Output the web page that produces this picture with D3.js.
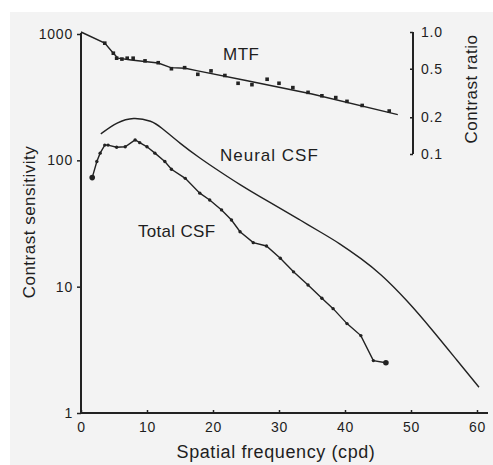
<!DOCTYPE html>
<html>
<head>
<meta charset="utf-8">
<script src="https://cdn.jsdelivr.net/npm/d3@7"></script>
<style>
body { margin:0; background:#fff; }
svg { display:block; }
text { font-family: "Liberation Sans", Arial, sans-serif; fill:#1e1e1e; }
</style>
</head>
<body>
<svg id="chart" width="493" height="465"></svg>
<script>
// MTF (right axis, contrast ratio) - measured points and fitted line
const mtfFreq  = [3.6,4.9,5.4,6.2,7.0,7.9,9.7,11.7,13.7,15.7,17.7,19.7,21.8,23.8,25.9,28.2,30.0,32.1,34.4,36.5,38.6,40.3,42.6,46.7]
const mtfRatio = [0.81,0.67,0.61,0.60,0.61,0.61,0.58,0.56,0.50,0.51,0.45,0.48,0.44,0.38,0.37,0.41,0.38,0.35,0.32,0.30,0.29,0.27,0.25,0.225]
const mtfFitFreq  = [0,3.6,4.9,5.6,7.6,11.7,13.6,15.8,17.7,25,35,48]
const mtfFitRatio = [1.0,0.81,0.67,0.61,0.59,0.557,0.51,0.505,0.48,0.40,0.31,0.21]

// neural CSF (smooth curve)
const neuralFreq = [3.0,5.5,7.9,10.8,12.0,15.0,18.0,21.1,24.1,27.1,30.2,33.2,36.2,39.2,42.5,45.3,49.4,53.3,57.0,60.3]
const neuralSens = [162,201,220,205,185,136,104,81,64,51.6,41.7,33.7,27.2,22.0,16.6,12.8,7.8,4.5,2.6,1.6]

// total CSF (measured)
const totalFreq = [1.7,2.4,2.9,3.6,4.1,5.4,6.7,8.2,8.9,10.0,11.2,12.7,13.7,15.8,18.0,19.5,21.3,22.8,24.1,26.1,28.1,30.2,32.2,34.4,36.5,38.2,40.3,42.4,44.3,46.2]
const totalSens = [73,98,114,132,132,127,128,145,138,128,114,98,85,72,55,48.5,40.5,33.7,27.2,22.3,21,16.8,13.1,10.3,8.1,6.7,5.1,4.1,2.6,2.5]

const xTicks = [0,10,20,30,40,50,60]
const yTicks = [1,10,100,1000]
const rTicks = [0.1,0.2,0.5,1.0]

const svg = d3.select("#chart")
svg.append("rect").attr("x",10).attr("y",12).attr("width",483).attr("height",453).attr("fill","#f3f3f3")

const x = d3.scaleLinear().domain([0,60]).range([81,477])
const y = d3.scaleLog().domain([1,1000]).range([413,34])
const yR = d3.scaleLog().domain([0.1,1]).range([154,32])

// axes
let gx = svg.append("g").attr("transform","translate(0,413)")
	.call(d3.axisBottom(x).tickValues(xTicks).tickSize(-3).tickPadding(9).tickFormat(d3.format("d")))
gx.select(".domain").remove()
gx.append("line").attr("x1",80).attr("x2",488).attr("stroke","#222").attr("stroke-width",2)

let gy = svg.append("g").attr("transform","translate(81,0)")
	.call(d3.axisLeft(y).tickValues(yTicks).tickSize(4).tickPadding(4).tickFormat(d3.format("d")))
gy.select(".domain").remove()
gy.append("line").attr("y1",33).attr("y2",414).attr("stroke","#222").attr("stroke-width",2)

let gr = svg.append("g").attr("transform","translate(413,0)")
	.call(d3.axisRight(yR).tickValues(rTicks).tickSize(-3).tickPadding(8).tickFormat(d3.format(".1f")))
gr.select(".domain").remove()
gr.append("line").attr("y1",yR(1)).attr("y2",yR(0.1)).attr("stroke","#222").attr("stroke-width",2)

svg.selectAll(".tick text").style("font-size","14px").style("letter-spacing","0.8px")
svg.selectAll(".tick line").attr("stroke","#222").attr("stroke-width",1.5)

// axis titles
svg.append("text").attr("x",276).attr("y",458).attr("text-anchor","middle")
	.style("font-size","18px").style("letter-spacing","0.6px").text("Spatial frequency (cpd)")
svg.append("text").attr("transform","translate(35,222) rotate(-90)").attr("text-anchor","middle")
	.style("font-size","17px").style("letter-spacing","0.5px").text("Contrast sensitivity")
svg.append("text").attr("transform","translate(477,89) rotate(-90)").attr("text-anchor","middle")
	.style("font-size","17px").style("letter-spacing","0.5px").text("Contrast ratio")

// curves
const lineR = d3.line().x(d => x(d[0])).y(d => yR(d[1]))
const lineL = d3.line().x(d => x(d[0])).y(d => y(d[1]))

svg.append("path").datum(d3.zip(mtfFitFreq, mtfFitRatio))
	.attr("d", lineR).attr("fill","none").attr("stroke","#222").attr("stroke-width",1.4)
svg.append("g").selectAll("rect").data(d3.zip(mtfFreq, mtfRatio)).enter().append("rect")
	.attr("x", d => x(d[0]) - 1.8).attr("y", d => yR(d[1]) - 1.8).attr("width",3.6).attr("height",3.6).attr("fill","#222")

svg.append("path").datum(d3.zip(neuralFreq, neuralSens))
	.attr("d", lineL.curve(d3.curveBasis)).attr("fill","none").attr("stroke","#222").attr("stroke-width",1.4)

const totalLine = d3.line().x(d => x(d[0])).y(d => y(d[1]))
svg.append("path").datum(d3.zip(totalFreq, totalSens))
	.attr("d", totalLine).attr("fill","none").attr("stroke","#222").attr("stroke-width",1.4)
svg.append("g").selectAll("circle").data(d3.zip(totalFreq, totalSens)).enter().append("circle")
	.attr("cx", d => x(d[0])).attr("cy", d => y(d[1]))
	.attr("r", (d,i) => (i == 0 || i == totalFreq.length-1) ? 2.8 : 1.7).attr("fill","#222")

// curve labels
svg.append("text").attr("x",223).attr("y",60).style("font-size","17px").style("letter-spacing","0.5px").text("MTF")
svg.append("text").attr("x",220).attr("y",161).style("font-size","17px").style("letter-spacing","1px").text("Neural CSF")
svg.append("text").attr("x",138).attr("y",237).style("font-size","17px").style("letter-spacing","0.3px").text("Total CSF")
</script>
</body>
</html>
